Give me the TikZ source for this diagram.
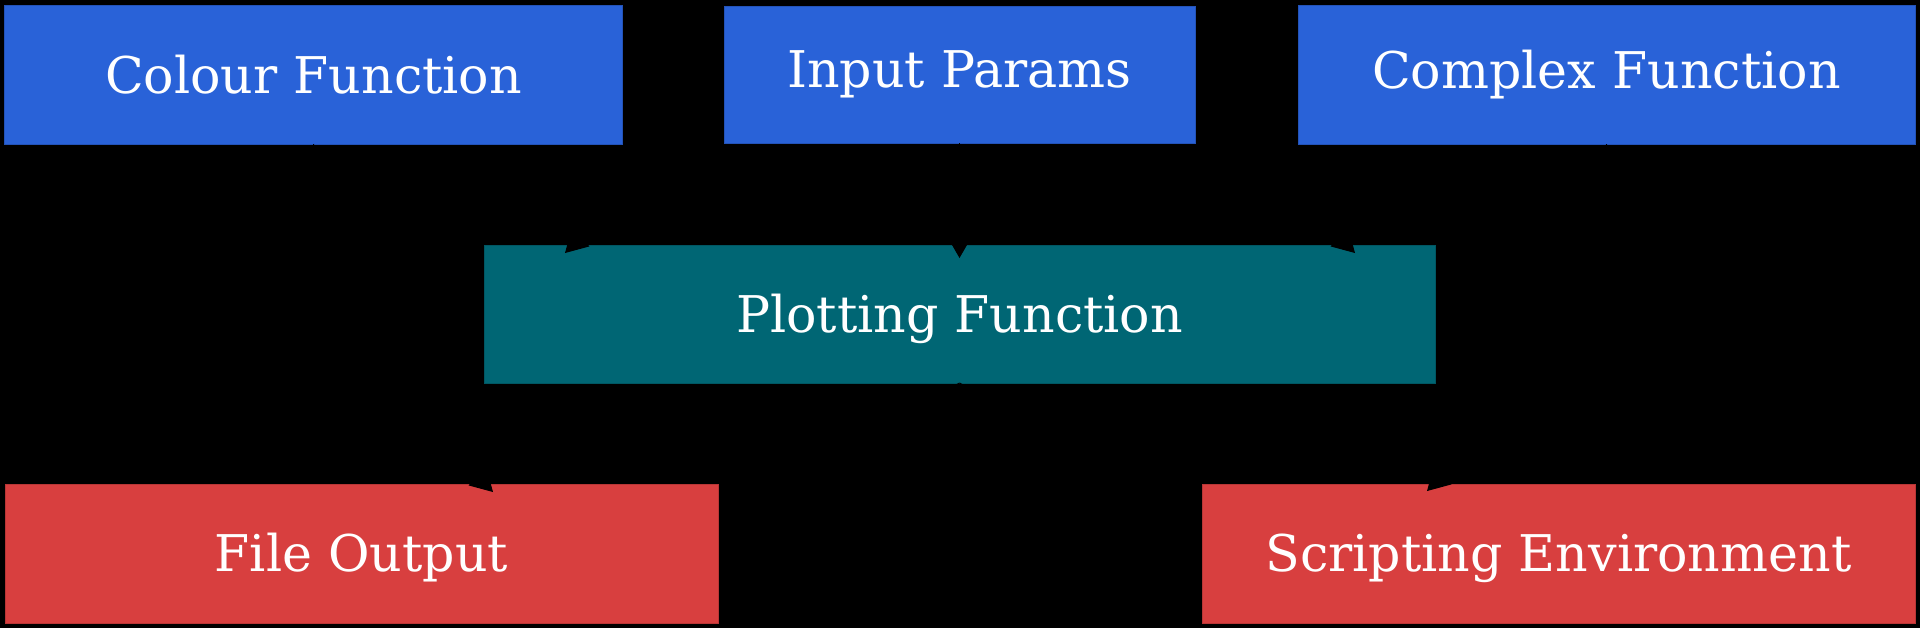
\documentclass[tikz,border=0pt]{standalone}
\usepackage{fontspec}
\setmainfont{DejaVu Serif}
\usetikzlibrary{positioning,arrows.meta}
\definecolor{boxblue}{HTML}{2962D8}
\definecolor{boxteal}{HTML}{006674}
\definecolor{boxred}{HTML}{D83F3F}

\begin{document}
\begin{tikzpicture}[font=\fontsize{14.4}{17}\selectfont,>={Triangle[length=0.22cm,width=0.25cm]},
  box/.style={rectangle,inner sep=0pt,outer sep=0pt,line width=0.01cm,text=white,minimum height=1.39cm},
  lowtext/.style={text height=0.485cm,text depth=0.12cm},
  inbox/.style={box,fill=boxblue,draw=boxblue!85!black},
  midbox/.style={box,lowtext,fill=boxteal,draw=boxteal!85!black},
  outbox/.style={box,lowtext,fill=boxred,draw=boxred!85!black},
  link/.style={->,black,line width=0.01cm}]
  % background and bounding box
  \fill[black] (0,0) rectangle (19.2,-6.28);
  \useasboundingbox (0,0) rectangle (19.2,-6.28);
  % ---------------- inputs ----------------
  \node[inbox,minimum width=6.17cm] (colour) at (3.135,-0.745) {Colour Function};
  \node[inbox,minimum width=4.71cm,minimum height=1.37cm] (input) at (9.595,-0.745) {Input Params};
  \node[inbox,minimum width=6.17cm] (complex) at (16.065,-0.745) {Complex Function};
  % ---------------- plotting ----------------
  \node[midbox,minimum width=9.51cm,minimum height=1.38cm] (plot) at (9.595,-3.14) {Plotting Function};
  % ---------------- outputs ----------------
  \node[outbox,minimum width=7.13cm] (file) at (3.615,-5.535) {File Output};
  \node[outbox,minimum width=7.13cm] (script) at (15.585,-5.535) {Scripting Environment};
  % ---------------- links ----------------
  \draw[link] (colour.south) to[out=-90,in=45] ([shift={(0.81,-0.08)}]plot.north west);
  \draw[link] (input.south) -- ([yshift=-0.13cm]plot.north);
  \draw[link] (complex.south) to[out=-90,in=135] ([shift={(-0.80,-0.08)}]plot.north east);
  \draw[link] (plot.south) to[out=-150,in=135] ([shift={(4.88,-0.08)}]file.north west);
  \draw[link] (plot.south) to[out=-30,in=45] ([shift={(2.25,-0.07)}]script.north west);
\end{tikzpicture}
\end{document}
